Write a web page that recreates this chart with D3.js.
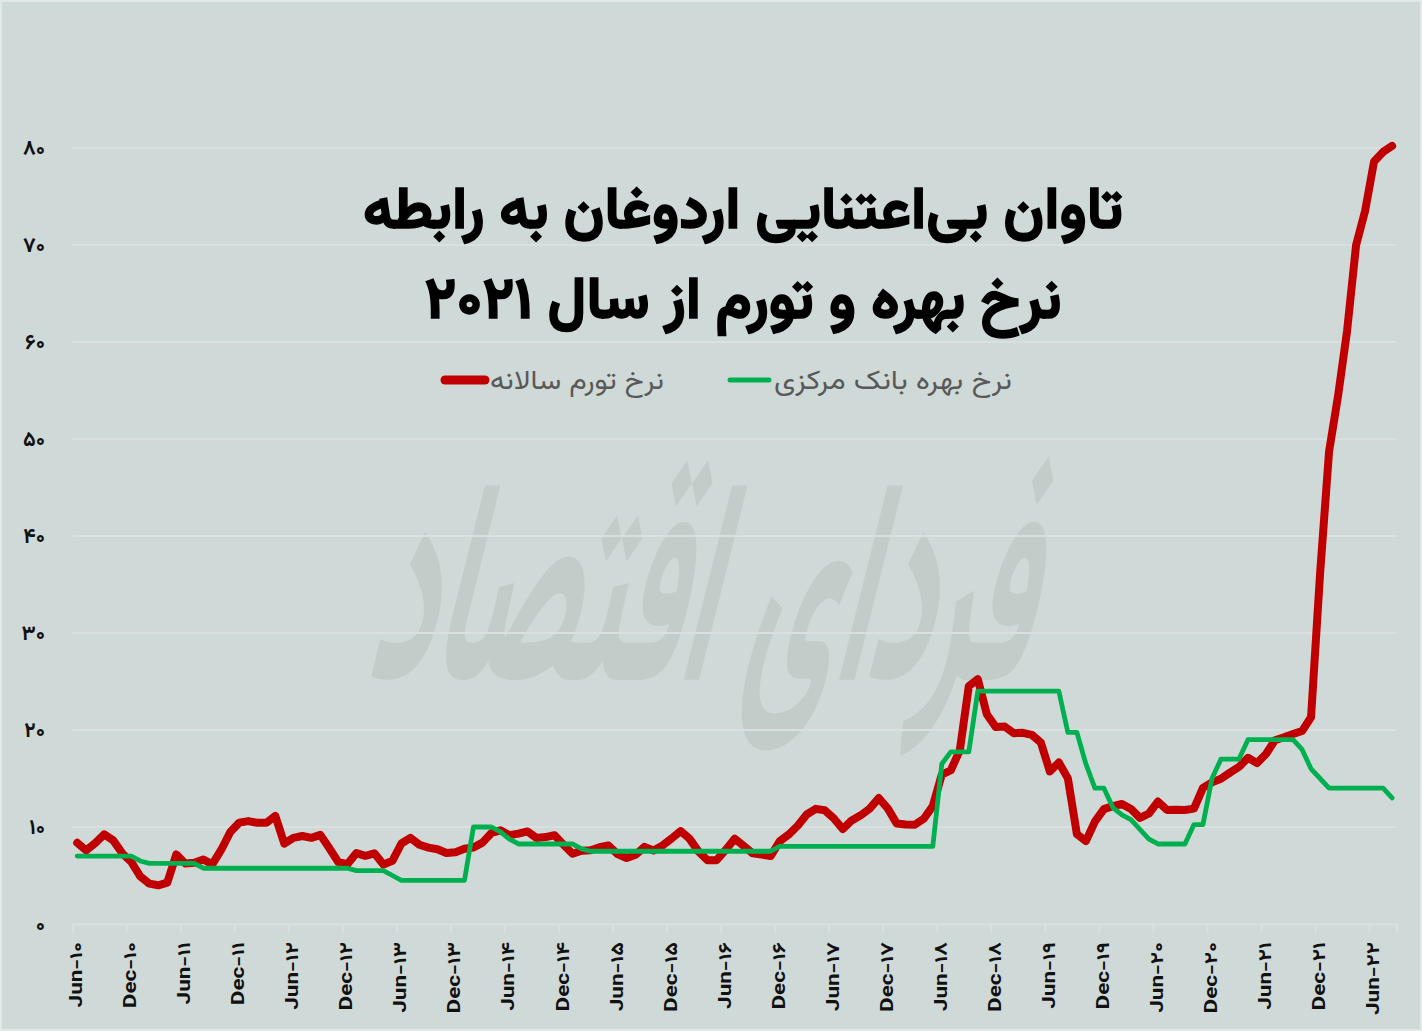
<!DOCTYPE html>
<html><head><meta charset="utf-8">
<script src="https://cdn.jsdelivr.net/npm/d3@7"></script>
<style>
html,body{margin:0;padding:0;background:#cfd9d7;}
svg{display:block;}
</style></head>
<body>
<svg id="chart" width="1422" height="1031"></svg>
<script>
// ---- data (monthly, Jun-2010 .. Aug-2022) ----
const years = [2010,2011,2012,2013,2014,2015,2016,2017,2018,2019,2020,2021,2022];
const monthNames = ["Jan","Feb","Mar","Apr","May","Jun","Jul","Aug","Sep","Oct","Nov","Dec"];
const inflation = [
 8.37,7.58,8.33,9.24,8.62,7.29,6.40,
 4.90,4.16,3.99,4.26,7.17,6.24,6.31,6.65,6.15,7.66,9.48,10.45,
 10.61,10.43,10.43,11.14,8.28,8.87,9.07,8.88,9.19,7.80,6.37,6.16,
 7.31,7.03,7.29,6.13,6.51,8.30,8.88,8.17,7.88,7.71,7.32,7.40,
 7.75,7.89,8.39,9.38,9.66,9.16,9.32,9.54,8.86,8.96,9.15,8.17,
 7.24,7.55,7.61,7.91,8.09,7.20,6.81,7.14,7.95,7.58,8.10,8.81,
 9.58,8.78,7.46,6.57,6.58,7.64,8.79,8.05,7.28,7.16,7.00,8.53,
 9.22,10.13,11.29,11.87,11.72,10.90,9.79,10.68,11.20,11.90,12.98,11.92,
 10.35,10.26,10.23,10.85,12.15,15.39,15.85,17.90,24.52,25.24,21.62,20.30,
 20.35,19.67,19.71,19.50,18.71,15.72,16.65,15.01,9.26,8.55,10.56,11.84,
 12.15,12.37,11.86,10.94,11.39,12.62,11.76,11.77,11.75,11.89,14.03,14.60,
 14.97,15.61,16.19,17.14,16.59,17.53,18.95,19.25,19.58,19.89,21.31,36.08,
 48.69,54.44,61.14,69.97,73.50,78.62,79.60,80.21
];
const policyRate = [
 7,7,7,7,7,7,7,
 6.5,6.25,6.25,6.25,6.25,6.25,6.25,5.75,5.75,5.75,5.75,5.75,
 5.75,5.75,5.75,5.75,5.75,5.75,5.75,5.75,5.75,5.75,5.75,5.75,
 5.5,5.5,5.5,5.5,5.0,4.5,4.5,4.5,4.5,4.5,4.5,4.5,
 4.5,10,10,10,9.5,8.75,8.25,8.25,8.25,8.25,8.25,8.25,
 8.25,7.75,7.5,7.5,7.5,7.5,7.5,7.5,7.5,7.5,7.5,7.5,
 7.5,7.5,7.5,7.5,7.5,7.5,7.5,7.5,7.5,7.5,7.5,8,
 8,8,8,8,8,8,8,8,8,8,8,8,
 8,8,8,8,8,16.5,17.75,17.75,17.75,24,24,24,
 24,24,24,24,24,24,24,19.75,19.75,16.5,14,14,
 12,11.25,10.75,9.75,8.75,8.25,8.25,8.25,8.25,10.25,10.25,15,
 17,17,17,19,19,19,19,19,19,18,16,15,
 14,14,14,14,14,14,14,13
];
const yTicks = [0,10,20,30,40,50,60,70,80];
const titleLines = ["تاوان بی‌اعتنایی اردوغان به رابطه", "نرخ بهره و تورم از سال ۲۰۲۱"];
const seriesNames = ["نرخ تورم سالانه", "نرخ بهره بانک مرکزی"];
const watermarkText = "فردای اقتصاد";

// build month keys
const months = [];
years.forEach(y => monthNames.forEach((m,mi) => {
  if ((y === 2010 && mi < 5) || (y === 2022 && mi > 7)) return;
  months.push(m + "-" + String(y).slice(2));
}));

const fa = s => String(s).replace(/[0-9]/g, d => "۰۱۲۳۴۵۶۷۸۹"[+d]);
const FONT = "Vazirmatn, 'Noto Sans Arabic', 'DejaVu Sans', sans-serif";

const svg = d3.select("#chart");
const W = 1422, H = 1031;
svg.append("rect").attr("width", W).attr("height", H).attr("fill", "#cfd9d7");
svg.append("rect").attr("x",1).attr("y",1).attr("width", W-2).attr("height", H-2)
  .attr("fill","none").attr("stroke","#e2e8e6").attr("stroke-width",2);

const x = d3.scaleBand().domain(months).range([72.7, 1396.6]);
const y = d3.scaleLinear().domain([0, 80]).range([924, 148]);
const cx = m => x(m) + x.bandwidth()/2;

// watermark
svg.append("text")
  .attr("transform", "translate(695,680) skewX(-14) scale(1,1.9)")
  .attr("text-anchor","middle")
  .attr("font-family", FONT).attr("font-weight","bold")
  .attr("font-size", 150).attr("fill", "#c2ccc9")
  .attr("direction","rtl")
  .attr("textLength", 660).attr("lengthAdjust","spacingAndGlyphs")
  .text(watermarkText);

// gridlines
svg.append("g").selectAll("line").data(yTicks.filter(d => d > 0)).join("line")
  .attr("x1", 72.7).attr("x2", 1396.6)
  .attr("y1", d => y(d)).attr("y2", d => y(d))
  .attr("stroke", "#dcdfdf").attr("stroke-width", 2);

// y labels
svg.append("g").selectAll("text").data(yTicks).join("text")
  .attr("x", 45).attr("y", d => y(d)).attr("dy", "0.35em")
  .attr("text-anchor", "end")
  .attr("font-family", FONT).attr("font-weight","bold").attr("font-size", 21)
  .attr("fill", "#111")
  .text(d => fa(d));

// x axis
const xTickMonths = months.filter(m => m.startsWith("Jun") || m.startsWith("Dec"));
const xAxis = d3.axisBottom(x).tickValues(xTickMonths).tickSize(9).tickFormat("");
const gx = svg.append("g").attr("transform", "translate(0,924)").call(xAxis);
gx.select(".domain").attr("stroke", "#dcdfdf").attr("stroke-width", 2);
gx.selectAll(".tick line").attr("stroke", "#dcdfdf").attr("stroke-width", 2)
  .attr("transform", `translate(${-x.bandwidth()/2},0)`);
gx.selectAll(".tick text").remove();
svg.append("g").selectAll("text").data(xTickMonths).join("text")
  .attr("transform", d => `translate(${x(d) + 3},942) rotate(-90) scale(1.25,1)`)
  .attr("text-anchor", "end").attr("dy", "0.36em")
  .attr("font-family", FONT).attr("font-weight","bold").attr("font-size", 18)
  .attr("fill", "#111")
  .text(d => fa(d));

// lines
const line = d3.line().x((d,i) => cx(months[i])).y(d => y(d));
svg.append("path").datum(inflation).attr("d", line)
  .attr("fill","none").attr("stroke","#c00000").attr("stroke-width", 8)
  .attr("stroke-linejoin","round").attr("stroke-linecap","round");
svg.append("path").datum(policyRate).attr("d", line)
  .attr("fill","none").attr("stroke","#00b050").attr("stroke-width", 4.8)
  .attr("stroke-linejoin","round").attr("stroke-linecap","round");

// title
const titleLen = [760, 637];
svg.append("g").selectAll("text").data(titleLines).join("text")
  .attr("x", 743).attr("y", (d,i) => 228 + i*90)
  .attr("text-anchor","middle").attr("direction","rtl")
  .attr("font-family", FONT).attr("font-weight","bold").attr("font-size", 58)
  .attr("fill","#000").attr("stroke","#000").attr("stroke-width", 1.5)
  .attr("textLength", (d,i) => titleLen[i]).attr("lengthAdjust","spacingAndGlyphs")
  .text(d => d);

// legend
const legend = [
  {name: seriesNames[0], color: "#c00000", x1: 445, x2: 485, tx: 664, len: 174, w: 9},
  {name: seriesNames[1], color: "#00b050", x1: 730, x2: 769, tx: 1012, len: 238, w: 5}
];
const lg = svg.append("g");
legend.forEach(l => {
  lg.append("line").attr("x1", l.x1).attr("x2", l.x2).attr("y1", 380).attr("y2", 380)
    .attr("stroke", l.color).attr("stroke-width", l.w).attr("stroke-linecap","round");
  lg.append("text").attr("x", l.tx).attr("y", 380).attr("dy","0.33em")
    .attr("text-anchor","start").attr("direction","rtl")
    .attr("font-family", FONT).attr("font-size", 27).attr("fill","#595959")
    .attr("textLength", l.len).attr("lengthAdjust","spacingAndGlyphs")
    .text(l.name);
});
</script>
</body></html>
